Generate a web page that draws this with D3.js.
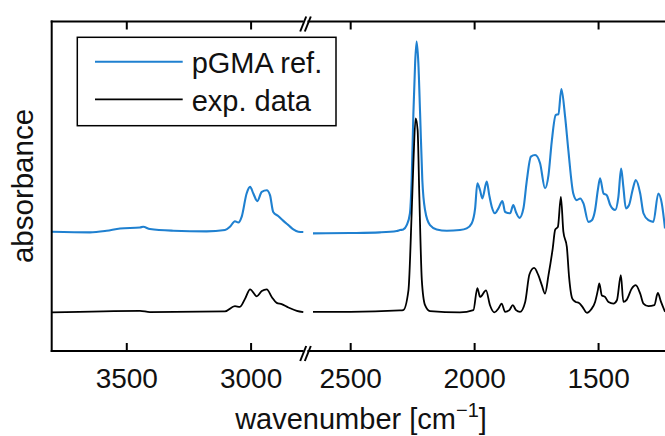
<!DOCTYPE html>
<html><head><meta charset="utf-8">
<script src="https://cdn.jsdelivr.net/npm/d3@7/dist/d3.min.js"></script>
<style>body{margin:0;background:#fff}svg{display:block}</style></head>
<body><svg id="c" width="665" height="436"></svg>
<script>
// ---- data ----
const seriesNames = ["pGMA ref.", "exp. data"];
const refWavenumber = [3800,3646,3579,3525,3445,3432,3405,3311,3177,3103,3083,3063,3049,3036,3016,3002,2989,2973,2955,2935,2922,2909,2888,2868,2848,2828,2808,2788,
 2650,2501,2380,2312,2299,2286,2272,2259,2252,2245,2238,2232,2225,2218,2209,2198,2178,2151,2110,2057,2030,2010,1996,1987,1976,1967,1949,1939,1929,1916,1902,1886,1875,1855,1842,1831,1817,1801,1788,1771,1754,1734,1714,1700,1687,1671,1660,1648,1633,1620,1600,1586,1572,1559,1539,1525,1512,1501,1492,1478,1465,1451,1431,1418,1407,1398,1388,1375,1361,1348,1330,1317,1297,1277,1257,1243,1230];
const refAbsorbance = [0.362,0.360,0.365,0.372,0.375,0.377,0.370,0.365,0.363,0.367,0.377,0.394,0.390,0.407,0.478,0.498,0.478,0.455,0.483,0.488,0.473,0.422,0.409,0.395,0.382,0.369,0.362,0.361,
 0.357,0.358,0.360,0.364,0.367,0.369,0.382,0.418,0.519,0.722,0.874,0.939,0.874,0.722,0.519,0.428,0.382,0.369,0.365,0.367,0.372,0.387,0.433,0.509,0.488,0.463,0.514,0.473,0.438,0.418,0.433,0.455,0.422,0.418,0.443,0.421,0.404,0.433,0.514,0.590,0.595,0.570,0.494,0.534,0.635,0.716,0.719,0.795,0.711,0.610,0.478,0.458,0.463,0.448,0.392,0.397,0.428,0.488,0.524,0.478,0.473,0.443,0.428,0.468,0.554,0.498,0.433,0.443,0.488,0.519,0.478,0.418,0.397,0.392,0.478,0.448,0.372];
const expWavenumber = [3800,3445,3405,3103,3063,3043,3022,3002,2975,2955,2935,2915,2895,2875,2848,2814,2788,
 2650,2500,2299,2286,2265,2252,2245,2236,2228,2221,2211,2198,2178,2057,2003,1987,1976,1952,1936,1918,1902,1889,1875,1858,1844,1831,1815,1794,1777,1758,1741,1727,1714,1700,1683,1673,1662,1650,1640,1626,1617,1604,1590,1577,1563,1545,1528,1512,1501,1495,1485,1472,1458,1438,1424,1408,1398,1384,1364,1348,1330,1317,1297,1273,1259,1246,1230];
const expAbsorbance = [0.117,0.122,0.118,0.120,0.136,0.134,0.159,0.187,0.166,0.182,0.187,0.164,0.146,0.142,0.132,0.122,0.118,
 0.119,0.119,0.123,0.124,0.184,0.418,0.570,0.706,0.671,0.468,0.215,0.139,0.121,0.117,0.124,0.191,0.164,0.184,0.139,0.117,0.129,0.144,0.119,0.124,0.139,0.124,0.119,0.149,0.232,0.252,0.230,0.200,0.174,0.230,0.311,0.368,0.377,0.468,0.362,0.316,0.225,0.159,0.149,0.146,0.134,0.116,0.126,0.149,0.184,0.205,0.169,0.164,0.149,0.144,0.154,0.230,0.149,0.156,0.190,0.200,0.174,0.144,0.136,0.139,0.176,0.149,0.119];
const leftDomain = [3800, 2788];
const rightDomain = [2650, 1230];
const leftTicks = [3500, 3000];
const rightTicks = [2500, 2000, 1500];
const colors = ["#1f80d0", "#000000"];

// ---- layout ----
const svg = d3.select("#c");
const L = 51.7, T = 21.5, B = 351, R = 665;
const xL = d3.scaleLinear().domain(leftDomain).range([L, 303.3]);
const xR = d3.scaleLinear().domain(rightDomain).range([313, R]);
const y = d3.scaleLinear().domain([0, 1]).range([B, T]);
const font = "'Liberation Sans', Arial, Helvetica, sans-serif";

svg.append("defs").append("clipPath").attr("id","clip")
  .append("rect").attr("x", L).attr("y", T).attr("width", R - L).attr("height", B - T);

function segments(ws, as) {
  const pts = ws.map((w, i) => [w, as[i]]);
  return [
    {pts: pts.filter(p => p[0] >= leftDomain[1]), x: xL},
    {pts: pts.filter(p => p[0] <= rightDomain[0]), x: xR}
  ];
}
const plot = svg.append("g").attr("clip-path", "url(#clip)");
[[refWavenumber, refAbsorbance, colors[0], 2.1], [expWavenumber, expAbsorbance, colors[1], 1.8]].forEach(([ws, as, col, sw]) => {
  segments(ws, as).forEach(seg => {
    const line = d3.line().x(d => seg.x(d[0])).y(d => y(d[1])).curve(d3.curveMonotoneX);
    plot.append("path").attr("d", line(seg.pts)).attr("fill", "none")
      .attr("stroke", col).attr("stroke-width", sw).attr("stroke-linejoin", "round");
  });
});

// axes
function drawAxis(scale, ticks, yPos, top) {
  const ax = (top ? d3.axisTop(scale) : d3.axisBottom(scale)).tickValues(ticks)
    .tickSizeInner(-8).tickSizeOuter(0).tickPadding(top ? 0 : 17)
    .tickFormat(top ? "" : d3.format("d"));
  const g = svg.append("g").attr("transform", `translate(0,${yPos})`).call(ax);
  g.select(".domain").remove();
  g.selectAll(".tick line").attr("stroke", "#000").attr("stroke-width", 2);
  g.selectAll(".tick text").attr("font-family", font).attr("font-size", 28).attr("fill", "#111");
}
drawAxis(xL, leftTicks, B, false);
drawAxis(xR, rightTicks, B, false);
drawAxis(xL, leftTicks, T, true);
drawAxis(xR, rightTicks, T, true);

const frame = svg.append("g").attr("stroke", "#000").attr("stroke-width", 2).attr("fill", "none");
frame.append("line").attr("x1", L).attr("x2", L).attr("y1", T - 1).attr("y2", B + 1);
[T, B].forEach(yy => {
  frame.append("line").attr("x1", L - 1).attr("x2", R).attr("y1", yy).attr("y2", yy);
  // break marks
  frame.append("line").attr("x1", 303.6).attr("x2", 307.4).attr("y1", yy).attr("y2", yy).attr("stroke", "#fff").attr("stroke-width", 3);
  [303.2, 307.8].forEach(cx => {
    frame.append("line").attr("x1", cx - 3).attr("y1", yy + 10).attr("x2", cx + 3).attr("y2", yy - 5).attr("stroke-width", 2);
  });
});

// legend
const lg = svg.append("g");
lg.append("rect").attr("x", 77.3).attr("y", 37.3).attr("width", 258.7).attr("height", 88.4)
  .attr("fill", "#fff").attr("stroke", "#000").attr("stroke-width", 1.5);
[61.7, 99.3].forEach((ly, i) => {
  lg.append("line").attr("x1", 95).attr("x2", 182.7).attr("y1", ly).attr("y2", ly)
    .attr("stroke", colors[i]).attr("stroke-width", i === 0 ? 2.1 : 1.8);
  lg.append("text").attr("x", 191.7).attr("y", ly + 11.5).text(seriesNames[i])
    .attr("font-family", font).attr("font-size", 29).attr("fill", "#111");
});

// axis labels
svg.append("text").attr("transform", "translate(33,186) rotate(-90)").attr("text-anchor", "middle")
  .attr("font-family", font).attr("font-size", 29.5).attr("fill", "#111").text("absorbance");
const xl = svg.append("text").attr("x", 361).attr("y", 429).attr("text-anchor", "middle")
  .attr("font-family", font).attr("font-size", 29).attr("fill", "#111");
xl.append("tspan").text("wavenumber [cm");
xl.append("tspan").attr("dy", -12).attr("font-size", 20).text("\u22121");
xl.append("tspan").attr("dy", 12).text("]");
</script></body></html>
